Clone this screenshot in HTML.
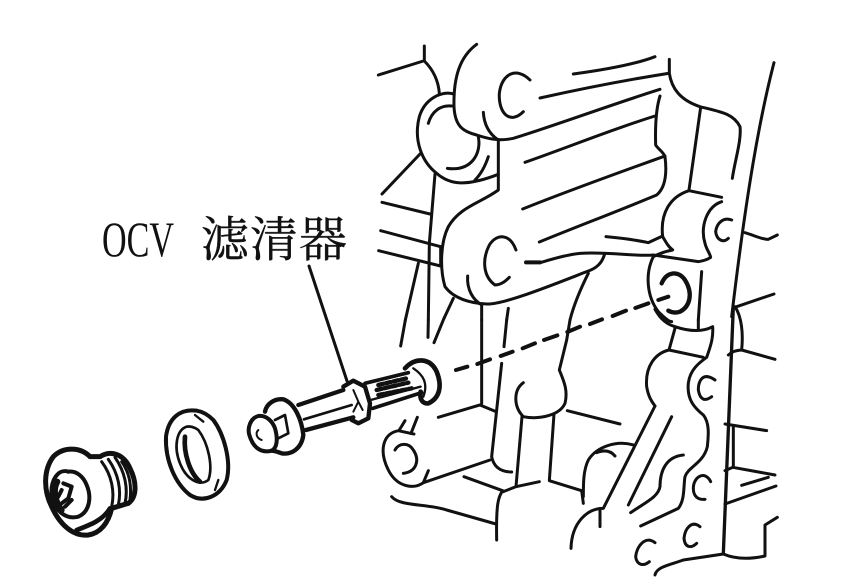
<!DOCTYPE html>
<html><head><meta charset="utf-8"><style>
html,body{margin:0;padding:0;background:#fff}
svg{display:block}
path{fill:none;stroke:#111;stroke-linecap:round;stroke-linejoin:round}
</style></head><body>
<svg width="866" height="579" viewBox="0 0 866 579" xmlns="http://www.w3.org/2000/svg">
<rect width="866" height="579" fill="#fff"/>
<text x="102" y="256" font-family="'Liberation Serif',serif" font-size="50" textLength="72" lengthAdjust="spacingAndGlyphs" fill="#111">OCV</text>
<text x="201" y="256" font-family="'Liberation Serif','Noto Serif CJK SC',serif" font-size="48" textLength="146" fill="#111" stroke="#111" stroke-width=".4">滤清器</text>
<path d="M309 266L347 381" stroke-width="3"/>

<!-- upper engine block -->
<g transform="translate(370,30) scale(.33333)" stroke-width="9">
<path d="M25 135L160 93M163 48V93C190 120 205 150 208 190"/>
<path d="M320 43C270 80 250 140 252 230C255 290 280 305 320 315C350 325 385 335 430 325C560 285 720 225 870 178"/>
<path d="M252 192C215 182 165 205 148 260C130 330 155 395 200 430C240 465 290 470 385 433"/>
<path d="M245 228C210 225 185 245 175 280M325 320C335 370 305 425 232 415M355 380C345 410 330 435 315 450M340 247C342 280 355 310 385 330V480C330 520 270 530 235 590C210 640 210 720 225 770C250 805 300 820 350 822C400 825 560 760 650 725C680 715 695 700 703 675"/>
<path d="M480 150C440 110 395 130 388 190C385 250 420 285 460 245"/>
<path d="M510 204C640 175 770 150 895 130M610 132C700 120 790 105 855 80M898 88V130C905 175 930 210 990 230C1050 245 1090 250 1110 290C1115 330 1095 390 1087 445"/>
<path d="M465 397C600 350 720 300 855 258"/>
<path d="M870 198C860 230 855 280 857 345C862 355 880 365 885 380C890 420 890 470 860 495C740 545 620 590 508 636"/>
<path d="M458 537C600 480 740 430 885 378"/>
<path d="M992 232L957 480M1055 502L957 482C900 500 870 550 878 620C890 640 895 650 908 660C880 665 865 672 850 680"/>
<path d="M1055 515C1010 530 990 590 1005 640C1010 660 1020 670 1022 682C1010 690 1000 692 985 695L850 675C800 680 720 665 630 670C580 675 540 690 510 698"/>
<path d="M468 697H510" stroke-width="12"/>
<path d="M708 620C760 625 800 630 835 638L878 618"/>
<path d="M1085 570C1060 560 1040 580 1037 605C1040 630 1060 640 1075 625"/>
<path d="M1212 98C1170 260 1130 480 1085 860M1125 608C1150 615 1180 630 1195 628L1222 615"/>
<path d="M438 660C420 610 380 610 358 645C335 690 340 740 375 765C395 765 410 750 418 742"/>
<path d="M293 738C290 780 310 810 335 825V870"/>
<path d="M150 372L36 492M195 432L178 640L175 870M36 517L180 552M32 602L212 650M26 662L212 708M212 650V708M145 700L106 870M250 805L222 865M415 835L410 870"/>
<path d="M850 680C825 730 830 800 865 845C880 860 895 875 905 875M995 725L985 870"/>
<path d="M875 760C890 725 925 720 945 750C970 790 960 830 930 845C915 850 905 848 895 842" stroke-width="13"/>
<path d="M655 730C630 780 610 830 600 870M1100 830L1212 792"/>
</g>

<!-- lower engine block -->
<g transform="translate(370,300) scale(.33333)" stroke-width="9">
<path d="M106 60L92 138M175 60L174 112M222 55L192 128M335 60V310M410 60L402 140M395 190L365 470C370 495 385 515 425 516"/>
<path d="M205 352L330 315L378 335"/>
<path d="M600 60L590 120L568 210C580 240 595 270 585 310C570 345 510 360 460 350C430 320 430 270 460 248"/>
<path d="M456 350L438 560L400 575M282 530L398 572C385 590 378 610 380 720M65 590C90 620 170 610 230 630L378 672"/>
<path d="M552 342L538 542L635 572L640 610M592 332L750 372"/>
<path d="M360 480L160 548C130 570 80 560 55 510C25 450 40 400 85 392C100 395 120 400 132 402M88 390L105 362M125 395L142 352"/>
<path d="M75 450C85 430 115 425 130 450C150 480 140 515 100 520M160 548L175 512"/>
<path d="M438 560L508 545"/>
<path d="M790 435C740 420 680 440 655 480C640 510 640 550 640 590M680 458C700 450 720 450 735 468"/>
<path d="M855 318L700 625C650 625 605 670 603 745M690 625V680"/>
<path d="M905 350L775 615M940 465C890 470 870 510 870 560C865 590 830 605 782 638M812 678L925 625C945 600 940 560 945 530C955 500 1000 490 1012 440C1015 410 1020 370 1000 345C975 325 950 300 955 250C960 210 985 190 1010 172C1025 130 1030 110 1028 80C1000 95 960 95 915 80C880 70 865 45 855 28"/>
<path d="M915 85L897 150L1000 172M897 150C855 160 825 200 830 260C835 290 845 305 855 318"/>
<path d="M985 60V88"/>
<path d="M1035 240C1000 215 985 240 985 270C990 300 1005 305 1025 290"/>
<path d="M1022 545C1005 510 970 530 970 565C970 590 985 600 1005 598"/>
<path d="M990 680C965 660 945 685 942 715C945 745 965 745 980 730"/>
<path d="M855 728C825 705 800 740 797 770C800 795 820 800 838 785"/>
<path d="M855 825C860 800 900 795 940 780L1060 762C1090 775 1130 780 1185 768V675L1222 652"/>
<path d="M1090 20L1060 760" stroke-width="10"/>
<path d="M1095 20C1115 50 1120 100 1115 150L1215 178M1115 150C1095 152 1085 155 1075 165"/>
<path d="M1065 372L1190 392M1090 378V500M1065 512L1088 502L1215 525M1065 612L1218 558M1115 556L1195 532"/>
<path d="M258 210L292 200M322 192L360 178M392 168L428 155M458 145L495 130M522 120L562 106M592 96L630 80M660 72L696 58M728 48L768 32M796 24L835 10M865 0L895 -10" stroke-width="12"/>
</g>

<!-- parts -->
<g transform="translate(0,340) scale(.33333)" stroke-width="10">
<!-- plug -->
<path d="M270 350C240 320 190 320 160 350C130 390 130 450 155 500C180 555 220 590 265 585C300 580 325 550 335 505" stroke-width="15"/>
<path d="M270 350L300 350C330 330 370 340 390 385C410 425 412 470 385 490L335 505" stroke-width="15"/>
<path d="M305 365C335 405 345 455 335 500M325 358C355 400 365 450 355 495M345 352C375 395 385 445 375 490M365 365C390 400 395 440 390 480" stroke-width="9"/>
<path d="M205 395C175 385 150 420 155 470C165 510 195 540 235 530C270 515 275 470 260 435C250 410 230 392 205 395" stroke-width="12"/>
<path d="M172 425C160 445 162 480 185 510" stroke-width="18"/>
<path d="M190 430L215 440L205 475L185 490M185 450L175 470M215 480L195 500" stroke-width="12"/>
<path d="M230 570C270 555 310 540 330 505" stroke-width="14"/>
<!-- washer -->
<path d="M590 212C540 205 505 235 498 290C495 360 525 430 570 465C610 490 660 470 680 420C695 360 670 280 640 240C625 225 610 215 590 212" stroke-width="12"/>
<path d="M560 260C530 270 520 320 540 370C560 420 600 440 625 420C640 380 625 310 595 270C585 262 570 258 560 260" stroke-width="8"/>
<path d="M555 290C550 340 570 400 600 425" stroke-width="14"/>
<path d="M585 225L610 245M655 420L645 450" stroke-width="7"/>
<!-- filter -->
<path d="M775 228C750 235 742 265 748 285C760 325 785 340 815 332C830 325 835 300 825 265C818 245 800 225 775 228" stroke-width="12"/>
<path d="M795 215C800 190 825 175 850 178C885 190 905 240 910 285C905 325 875 345 845 340C830 335 825 332 815 332" stroke-width="13"/>
<path d="M825 240L855 225L865 280L835 295" stroke-width="8"/>
<path d="M775 270C765 280 770 295 785 300" stroke-width="6"/>
<path d="M895 195L1030 150M918 270L1060 232" stroke-width="13"/>
<path d="M912 238L1055 195" stroke-width="8"/>
<path d="M1030 140L1060 122L1095 140L1110 190L1105 235L1075 250L1055 240" stroke-width="13"/>
<path d="M1060 150L1075 185L1060 215M1075 185L1088 210" stroke-width="6"/>
<path d="M1095 130L1225 98M1118 205L1265 158" stroke-width="11"/>
<path d="M1112 180L1262 140" stroke-width="7"/>
<path d="M1135 135L1220 115M1130 150L1225 128M1135 165L1235 145" stroke-width="13" stroke-dasharray="16 7"/>
<path d="M1215 85C1245 52 1290 52 1310 95C1328 140 1318 175 1285 190C1268 192 1258 178 1262 155" stroke-width="14"/>
<path d="M1240 85C1270 105 1285 130 1270 170" stroke-width="7"/>
</g>
</svg>
</body></html>
